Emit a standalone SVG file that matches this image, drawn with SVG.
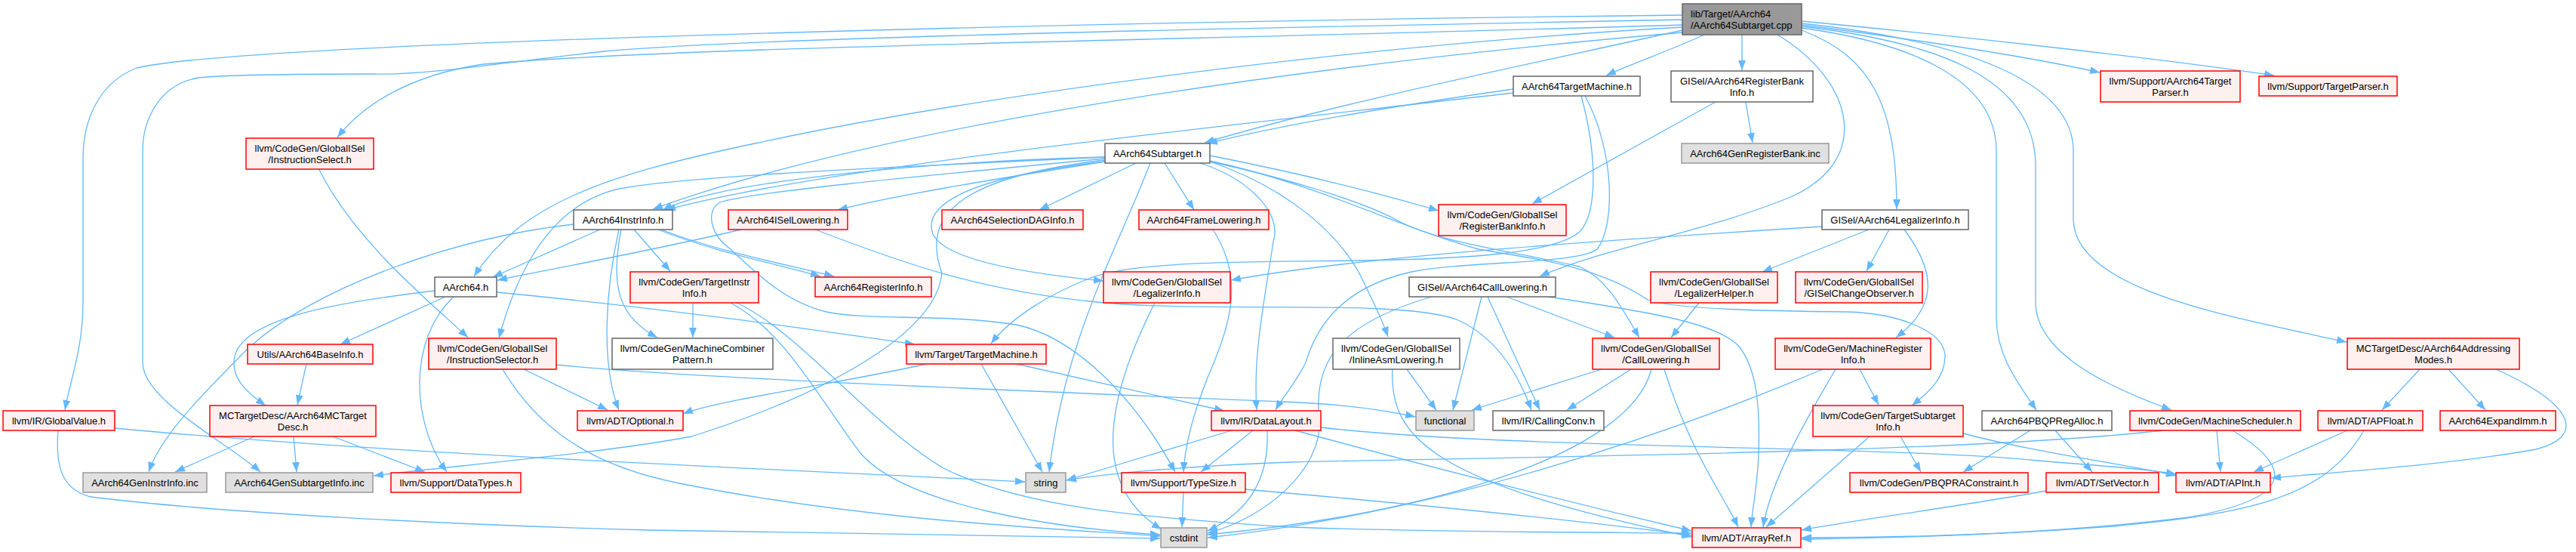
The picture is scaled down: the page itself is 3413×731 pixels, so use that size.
<svg xmlns="http://www.w3.org/2000/svg" width="3413" height="731" viewBox="0 0 3413 731">
<style>
text{font-family:"Liberation Sans",Arial,Helvetica,sans-serif;font-size:13px;fill:#000;text-anchor:middle}
.nd rect{stroke-width:1.5}
.w rect{fill:#fff;stroke:#666}
.r rect{fill:#fff0f0;stroke:#f00}
.g rect{fill:#e0e0e0;stroke:#999}
.rt rect{fill:#999;stroke:#666}
.rt text{text-anchor:start}
#edges path{fill:none;stroke:#63b8ff;stroke-width:1.3;marker-end:url(#a)}
</style>
<defs>
<marker id="a" markerUnits="userSpaceOnUse" markerWidth="14" markerHeight="11" refX="13" refY="5" orient="auto"><path d="M0,0 L13,5 L0,10 z" fill="#63b8ff"/></marker>
</defs>
<rect width="3413" height="731" fill="#fff"/>
<g id="edges">
<path d="M2229,40 C1980,95 1760,140 1596,189"/>
<path d="M2258,46 C2210,68 2160,85 2128,100"/>
<path d="M2308,46 L2308,93"/>
<path d="M2387,33 C2560,55 2700,78 2782,96"/>
<path d="M2387,28 C2620,50 2880,80 3013,100"/>
<path d="M2355,46 C2460,110 2480,215 2370,262 C2250,310 2120,330 2040,366"/>
<path d="M2387,40 C2480,75 2513,140 2513,277"/>
<path d="M2387,37 C2520,55 2645,100 2645,200 L2645,420 C2645,470 2672,505 2698,543"/>
<path d="M2387,35 C2560,55 2697,100 2697,220 L2697,400 C2697,470 2800,515 2877,543"/>
<path d="M2387,31 C2610,55 2747,110 2747,200 L2747,290 C2747,385 2960,420 3109,453"/>
<path d="M2229,33 C1500,55 900,62 640,85 C540,100 480,140 447,182"/>
<path d="M2229,20 C1500,28 330,55 181,90 C130,110 110,160 110,210 L110,400 C110,460 94,500 86,543"/>
<path d="M2229,26 C1600,38 1000,50 800,68 C650,85 560,100 494,98 C400,98 300,99 263,103 C210,112 189,160 189,200 L189,480 C189,530 300,585 345,625"/>
<path d="M2229,36 C1800,60 1300,125 1000,190 C800,232 690,270 628,366"/>
<path d="M2229,43 C1800,80 1200,155 865,277"/>
<path d="M2005,118 C1850,140 1700,165 1600,190"/>
<path d="M2005,123 C1600,170 1100,220 882,278"/>
<path d="M2100,127 C2140,200 2140,300 2116,330 C2090,350 1950,345 1870,360 C1780,380 1745,430 1730,480 C1715,510 1700,525 1690,543"/>
<path d="M2095,127 C2115,200 2118,280 2093,307 C2060,335 1950,343 1800,345 C1650,347 1500,345 1440,370 C1390,390 1340,420 1313,455"/>
<path d="M1464,208 C1200,215 950,242 878,278"/>
<path d="M1464,214 C1300,240 1180,260 1110,278"/>
<path d="M1505,216 L1377,278"/>
<path d="M1543,216 L1582,278"/>
<path d="M876,304 C950,333 1050,352 1105,366"/>
<path d="M1464,208 C1100,225 900,235 820,250 C740,268 690,340 661,448"/>
<path d="M1464,214 C1280,235 1222,272 1236,310 C1255,350 1400,366 1462,372"/>
<path d="M1524,216 C1480,330 1410,450 1390,625"/>
<path d="M1590,216 C1650,235 1700,280 1687,320 C1675,400 1660,470 1665,543"/>
<path d="M1603,214 C1700,235 1800,265 1848,290 C1900,320 2000,332 2093,353 C2130,370 2150,410 2172,447"/>
<path d="M1603,214 C1680,240 1760,290 1800,360 C1820,400 1832,425 1839,446"/>
<path d="M1603,206 C1700,225 1800,248 1906,279"/>
<path d="M1603,213 C1750,245 1850,300 1959,330 C2050,345 2120,355 2183,397 C2220,410 2350,412 2447,413 C2520,415 2575,440 2577,470 C2578,500 2555,520 2533,537"/>
<path d="M1464,212 C1260,236 1222,290 1248,362 C1240,440 1100,520 916,578 C800,600 600,617 495,630"/>
<path d="M2313,135 L2322,189"/>
<path d="M2273,135 L2030,270"/>
<path d="M795,304 L653,367"/>
<path d="M760,297 C600,315 420,380 330,460 C260,530 212,580 197,625"/>
<path d="M820,304 C803,380 795,480 820,543"/>
<path d="M823,304 C808,380 820,420 871,447"/>
<path d="M840,304 L888,359"/>
<path d="M872,304 C950,335 1040,352 1087,366"/>
<path d="M1464,210 C1200,235 990,255 954,268 C935,278 940,310 968,330 C1000,360 1040,400 1095,413 C1150,425 1250,415 1346,430 C1420,445 1500,520 1557,625"/>
<path d="M982,304 C850,335 720,358 659,371"/>
<path d="M1080,304 C1200,350 1300,385 1453,400 C1600,415 1850,395 1930,423 C1980,445 2010,490 2029,543"/>
<path d="M1607,304 C1650,370 1630,430 1600,500 C1580,550 1570,590 1568,625"/>
<path d="M590,393 L451,456"/>
<path d="M576,385 C450,400 330,420 312,468 C302,500 330,522 352,537"/>
<path d="M601,393 C540,450 545,560 592,625"/>
<path d="M658,387 C900,410 1100,440 1212,456"/>
<path d="M406,482 L394,536"/>
<path d="M422,223 C470,320 570,400 620,447"/>
<path d="M694,489 L805,543"/>
<path d="M737,483 C900,500 1300,515 1700,532 C1780,535 1830,542 1875,552"/>
<path d="M666,489 C720,580 800,620 900,640 C1150,690 1400,700 1537,710"/>
<path d="M152,567 C500,600 1000,620 1358,638"/>
<path d="M77,570 C72,630 90,650 120,658 C300,680 600,695 860,702 C1100,706 1400,710 1537,713"/>
<path d="M337,578 L232,625"/>
<path d="M389,578 L393,625"/>
<path d="M441,578 L563,625"/>
<path d="M918,401 L918,447"/>
<path d="M968,401 C1040,440 1080,520 1140,600 C1200,670 1400,700 1537,708"/>
<path d="M976,401 C1060,440 1150,560 1250,620 C1350,670 1500,685 1710,698 C1900,705 2100,705 2241,706"/>
<path d="M1530,401 C1470,520 1440,640 1539,701"/>
<path d="M1228,482 C1100,510 950,530 905,548"/>
<path d="M1300,482 L1381,625"/>
<path d="M1347,482 L1622,544"/>
<path d="M1632,570 L1413,636"/>
<path d="M1660,570 L1591,625"/>
<path d="M1679,570 C1682,640 1650,680 1600,703"/>
<path d="M1716,570 C1900,620 2100,670 2241,703"/>
<path d="M1750,566 C2000,595 2500,590 2700,610 C2800,618 2850,622 2883,628"/>
<path d="M1568,652 L1566,698"/>
<path d="M1650,648 C1900,670 2100,690 2241,709"/>
<path d="M1996,393 L2139,447"/>
<path d="M1963,393 L1925,543"/>
<path d="M1971,393 L2040,543"/>
<path d="M2051,393 C2200,415 2280,430 2305,460 C2328,490 2332,540 2330,600 C2329,640 2322,670 2320,698"/>
<path d="M1897,393 C1770,430 1740,480 1748,560 C1750,620 1680,685 1600,706"/>
<path d="M2251,401 L2214,447"/>
<path d="M2476,304 L2335,360"/>
<path d="M2503,304 L2473,359"/>
<path d="M2523,304 C2565,360 2568,405 2512,447"/>
<path d="M2414,300 C2100,320 1800,340 1631,371"/>
<path d="M2464,489 L2489,536"/>
<path d="M2432,489 C2390,560 2345,640 2336,698"/>
<path d="M2415,489 C2200,580 1900,680 1600,712"/>
<path d="M2518,578 L2545,625"/>
<path d="M2477,578 L2340,698"/>
<path d="M2601,574 C2700,600 2820,615 2883,630"/>
<path d="M2122,489 L1950,543"/>
<path d="M2161,489 L2076,543"/>
<path d="M2205,489 C2240,600 2280,650 2303,698"/>
<path d="M2188,489 C2160,600 1900,680 1600,708"/>
<path d="M1864,489 L1903,543"/>
<path d="M1845,489 C1840,580 1900,640 2241,711"/>
<path d="M2690,570 L2601,625"/>
<path d="M2723,570 L2772,625"/>
<path d="M2937,570 L2942,625"/>
<path d="M2866,570 C2600,600 2000,605 1710,612 C1600,616 1480,625 1413,636"/>
<path d="M2958,570 C3040,620 3040,660 2900,685 C2700,710 2500,712 2387,712"/>
<path d="M2711,650 C2600,670 2450,690 2387,702"/>
<path d="M3110,570 L2986,625"/>
<path d="M3132,570 C3080,660 2980,680 2800,697 C2600,712 2450,713 2387,714"/>
<path d="M3206,489 L3156,543"/>
<path d="M3244,489 L3293,543"/>
<path d="M3307,489 C3420,540 3420,580 3360,595 C3250,615 3100,625 3009,633"/>
</g>
<g id="n_root" class="nd rt"><rect x="2229" y="5" width="158" height="41"/><text x="2240" y="22.5">lib/Target/AArch64</text><text x="2240" y="37.5">/AArch64Subtarget.cpp</text></g>
<g id="n_tm" class="nd w"><rect x="2005" y="101" width="168" height="26"/><text x="2089" y="118.5">AArch64TargetMachine.h</text></g>
<g id="n_rbi" class="nd w"><rect x="2214" y="94" width="188" height="41"/><text x="2308" y="111.5">GISel/AArch64RegisterBank</text><text x="2308" y="126.5">Info.h</text></g>
<g id="n_atp" class="nd r"><rect x="2783" y="94" width="185" height="41"/><text x="2875.5" y="111.5">llvm/Support/AArch64Target</text><text x="2875.5" y="126.5">Parser.h</text></g>
<g id="n_tp" class="nd r"><rect x="2993" y="101" width="183" height="26"/><text x="3084.5" y="118.5">llvm/Support/TargetParser.h</text></g>
<g id="n_isel" class="nd r"><rect x="326" y="183" width="169" height="41"/><text x="410.5" y="200.5">llvm/CodeGen/GlobalISel</text><text x="410.5" y="215.5">/InstructionSelect.h</text></g>
<g id="n_sub" class="nd w"><rect x="1464" y="190" width="139" height="26"/><text x="1533.5" y="207.5">AArch64Subtarget.h</text></g>
<g id="n_grb" class="nd g"><rect x="2228" y="190" width="195" height="26"/><text x="2325.5" y="207.5">AArch64GenRegisterBank.inc</text></g>
<g id="n_ii" class="nd w"><rect x="760" y="278" width="131" height="26"/><text x="825.5" y="295.5">AArch64InstrInfo.h</text></g>
<g id="n_isl" class="nd r"><rect x="965" y="278" width="158" height="26"/><text x="1044" y="295.5">AArch64ISelLowering.h</text></g>
<g id="n_sdag" class="nd r"><rect x="1248" y="278" width="187" height="26"/><text x="1341.5" y="295.5">AArch64SelectionDAGInfo.h</text></g>
<g id="n_fl" class="nd r"><rect x="1509" y="278" width="172" height="26"/><text x="1595" y="295.5">AArch64FrameLowering.h</text></g>
<g id="n_gbi" class="nd r"><rect x="1906" y="271" width="169" height="41"/><text x="1990.5" y="288.5">llvm/CodeGen/GlobalISel</text><text x="1990.5" y="303.5">/RegisterBankInfo.h</text></g>
<g id="n_ali" class="nd w"><rect x="2414" y="278" width="194" height="26"/><text x="2511" y="295.5">GISel/AArch64LegalizerInfo.h</text></g>
<g id="n_a64" class="nd w"><rect x="576" y="367" width="82" height="26"/><text x="617" y="384.5">AArch64.h</text></g>
<g id="n_tii" class="nd r"><rect x="835" y="360" width="170" height="41"/><text x="920" y="377.5">llvm/CodeGen/TargetInstr</text><text x="920" y="392.5">Info.h</text></g>
<g id="n_ri" class="nd r"><rect x="1080" y="367" width="154" height="26"/><text x="1157" y="384.5">AArch64RegisterInfo.h</text></g>
<g id="n_li" class="nd r"><rect x="1462" y="360" width="168" height="41"/><text x="1546" y="377.5">llvm/CodeGen/GlobalISel</text><text x="1546" y="392.5">/LegalizerInfo.h</text></g>
<g id="n_acl" class="nd w"><rect x="1867" y="367" width="194" height="26"/><text x="1964" y="384.5">GISel/AArch64CallLowering.h</text></g>
<g id="n_lh" class="nd r"><rect x="2187" y="360" width="168" height="41"/><text x="2271" y="377.5">llvm/CodeGen/GlobalISel</text><text x="2271" y="392.5">/LegalizerHelper.h</text></g>
<g id="n_gco" class="nd r"><rect x="2379" y="360" width="168" height="41"/><text x="2463" y="377.5">llvm/CodeGen/GlobalISel</text><text x="2463" y="392.5">/GISelChangeObserver.h</text></g>
<g id="n_bi" class="nd r"><rect x="328" y="456" width="166" height="26"/><text x="411" y="473.5">Utils/AArch64BaseInfo.h</text></g>
<g id="n_is" class="nd r"><rect x="568" y="448" width="169" height="41"/><text x="652.5" y="465.5">llvm/CodeGen/GlobalISel</text><text x="652.5" y="480.5">/InstructionSelector.h</text></g>
<g id="n_mcp" class="nd w"><rect x="811" y="448" width="213" height="41"/><text x="917.5" y="465.5">llvm/CodeGen/MachineCombiner</text><text x="917.5" y="480.5">Pattern.h</text></g>
<g id="n_ltm" class="nd r"><rect x="1201" y="456" width="185" height="26"/><text x="1293.5" y="473.5">llvm/Target/TargetMachine.h</text></g>
<g id="n_ial" class="nd w"><rect x="1766" y="448" width="168" height="41"/><text x="1850" y="465.5">llvm/CodeGen/GlobalISel</text><text x="1850" y="480.5">/InlineAsmLowering.h</text></g>
<g id="n_cl" class="nd r"><rect x="2110" y="448" width="168" height="41"/><text x="2194" y="465.5">llvm/CodeGen/GlobalISel</text><text x="2194" y="480.5">/CallLowering.h</text></g>
<g id="n_mri" class="nd r"><rect x="2352" y="448" width="206" height="41"/><text x="2455" y="465.5">llvm/CodeGen/MachineRegister</text><text x="2455" y="480.5">Info.h</text></g>
<g id="n_am" class="nd r"><rect x="3110" y="448" width="228" height="41"/><text x="3224" y="465.5">MCTargetDesc/AArch64Addressing</text><text x="3224" y="480.5">Modes.h</text></g>
<g id="n_gv" class="nd r"><rect x="4" y="544" width="148" height="26"/><text x="78" y="561.5">llvm/IR/GlobalValue.h</text></g>
<g id="n_mcd" class="nd r"><rect x="278" y="537" width="220" height="41"/><text x="388" y="554.5">MCTargetDesc/AArch64MCTarget</text><text x="388" y="569.5">Desc.h</text></g>
<g id="n_opt" class="nd r"><rect x="765" y="544" width="140" height="26"/><text x="835" y="561.5">llvm/ADT/Optional.h</text></g>
<g id="n_dl" class="nd r"><rect x="1605" y="544" width="145" height="26"/><text x="1677.5" y="561.5">llvm/IR/DataLayout.h</text></g>
<g id="n_fn" class="nd g"><rect x="1876" y="544" width="77" height="26"/><text x="1914.5" y="561.5">functional</text></g>
<g id="n_cc" class="nd w"><rect x="1978" y="544" width="147" height="26"/><text x="2051.5" y="561.5">llvm/IR/CallingConv.h</text></g>
<g id="n_tsi" class="nd r"><rect x="2402" y="537" width="199" height="41"/><text x="2501.5" y="554.5">llvm/CodeGen/TargetSubtarget</text><text x="2501.5" y="569.5">Info.h</text></g>
<g id="n_pbqp" class="nd w"><rect x="2626" y="544" width="172" height="26"/><text x="2712" y="561.5">AArch64PBQPRegAlloc.h</text></g>
<g id="n_ms" class="nd r"><rect x="2822" y="544" width="226" height="26"/><text x="2935" y="561.5">llvm/CodeGen/MachineScheduler.h</text></g>
<g id="n_apf" class="nd r"><rect x="3071" y="544" width="139" height="26"/><text x="3140.5" y="561.5">llvm/ADT/APFloat.h</text></g>
<g id="n_ei" class="nd r"><rect x="3233" y="544" width="153" height="26"/><text x="3309.5" y="561.5">AArch64ExpandImm.h</text></g>
<g id="n_gii" class="nd g"><rect x="110" y="626" width="164" height="26"/><text x="192" y="643.5">AArch64GenInstrInfo.inc</text></g>
<g id="n_gsi" class="nd g"><rect x="299" y="626" width="195" height="26"/><text x="396.5" y="643.5">AArch64GenSubtargetInfo.inc</text></g>
<g id="n_dt" class="nd r"><rect x="518" y="626" width="172" height="26"/><text x="604" y="643.5">llvm/Support/DataTypes.h</text></g>
<g id="n_str" class="nd g"><rect x="1359" y="626" width="53" height="26"/><text x="1385.5" y="643.5">string</text></g>
<g id="n_ts" class="nd r"><rect x="1486" y="626" width="164" height="26"/><text x="1568" y="643.5">llvm/Support/TypeSize.h</text></g>
<g id="n_pc" class="nd r"><rect x="2451" y="626" width="236" height="26"/><text x="2569" y="643.5">llvm/CodeGen/PBQPRAConstraint.h</text></g>
<g id="n_sv" class="nd r"><rect x="2711" y="626" width="149" height="26"/><text x="2785.5" y="643.5">llvm/ADT/SetVector.h</text></g>
<g id="n_api" class="nd r"><rect x="2883" y="626" width="125" height="26"/><text x="2945.5" y="643.5">llvm/ADT/APInt.h</text></g>
<g id="n_ci" class="nd g"><rect x="1538" y="699" width="61" height="26"/><text x="1568.5" y="716.5">cstdint</text></g>
<g id="n_ar" class="nd r"><rect x="2242" y="699" width="144" height="26"/><text x="2314" y="716.5">llvm/ADT/ArrayRef.h</text></g>
</svg>
